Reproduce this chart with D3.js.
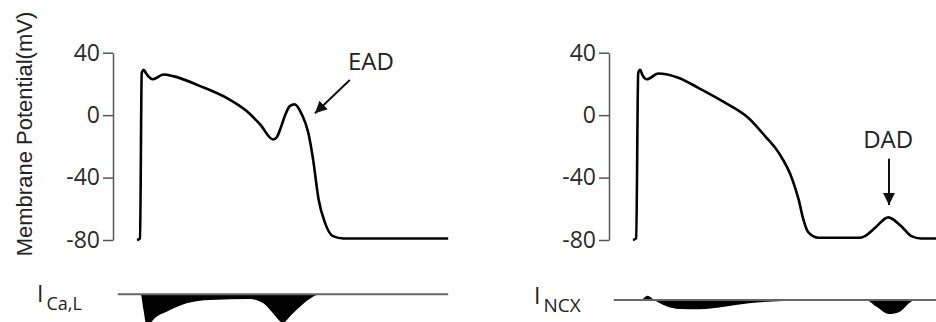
<!DOCTYPE html>
<html>
<head>
<meta charset="utf-8">
<script src="https://cdn.jsdelivr.net/npm/d3@7"></script>
<style>
  html, body { margin: 0; padding: 0; background: #fff; }
  svg { display: block; }
  .axis path, .axis line { stroke: #555; stroke-width: 1.5; }
  .axis text { fill: #2a2a2a; font-family: "Open Sans", sans-serif; font-size: 23px; }
  .note { font-family: "Open Sans", sans-serif; fill: #222; }
</style>
</head>
<body>
<div id="chart"></div>
<script>
// membrane potential (mV) vs time (ms), EAD panel
const timeEAD = [0, 3.8, 5.9, 8.6, 11, 20, 33, 45, 79, 112, 137, 154, 170, 175, 179, 186, 191, 197, 206, 214, 220, 227, 235, 245, 258, 389];
const vmEAD   = [-80, -79, 27, 29, 27, 23, 26, 25, 18.6, 11, 2.6, -6, -15.6, -14, -9, 1, 5.8, 6.9, 0.5, -11, -28, -54, -69, -77.5, -79, -79];

// membrane potential (mV) vs time (ms), DAD panel
const timeDAD = [0, 4, 6.5, 9, 11.5, 17.5, 31.6, 56.6, 81.6, 115, 144, 165, 182, 199, 207, 213, 219, 232, 282, 290, 303, 319, 335, 348, 360, 400];
const vmDAD   = [-80, -79, 27, 29, 26, 23, 26.7, 24, 17.5, 8, -1.7, -13.4, -24, -41, -54, -67, -75, -78.6, -78.6, -77.5, -72, -65.5, -71, -77.5, -79, -79];

// L-type Ca current (relative units)
const timeCaL = [-24, 4.6, 8, 12, 16, 22, 37, 62, 91, 141, 158, 170, 182.5, 192.5, 204, 220, 229, 389];
const iCaL    = [0, 0, -0.5, -1.05, -0.98, -0.8, -0.58, -0.3, -0.19, -0.16, -0.3, -0.63, -0.95, -0.7, -0.41, -0.08, 0, 0];

// Na/Ca exchanger current (relative units)
const timeNCX = [-24, 10, 18, 26.6, 41, 58, 83, 116, 145, 187, 229, 270, 291, 304, 320, 333, 345, 352, 400];
const iNCX    = [0, 0, 0.14, 0, -0.2, -0.3, -0.31, -0.22, -0.11, -0.03, -0.01, 0, 0, -0.22, -0.47, -0.4, -0.11, 0, 0];

const vmTicks = [-80, -40, 0, 40];

const W = 936, H = 322;
const svg = d3.select('#chart').append('svg').attr('width', W).attr('height', H);

const defs = svg.append('defs');
defs.append('marker')
  .attr('id', 'head')
  .attr('markerUnits', 'userSpaceOnUse')
  .attr('viewBox', '0 0 12 12')
  .attr('markerWidth', 12).attr('markerHeight', 12)
  .attr('refX', 12).attr('refY', 6)
  .attr('orient', 'auto')
  .append('path').attr('d', 'M0,0 L12,6 L0,12 Z').attr('fill', '#111');

const x = d3.scaleLinear().domain([0, 400]).range([24, 344]);
const y = d3.scaleLinear().domain([-80, 40]).range([240, 52.7]);

function panel(left, time, vm, tCur, iCur, base, tEnd, label, sub) {
  const g = svg.append('g').attr('transform', `translate(${left},0)`);

  // plain hyphen for negatives, like the original figure
  g.append('g')
    .attr('class', 'axis')
    .call(d3.axisLeft(y).tickValues(vmTicks).tickFormat(d => String(d))
      .tickSize(10).tickSizeOuter(0).tickPadding(3));

  g.append('path')
    .datum(d3.zip(time, vm))
    .attr('fill', 'none')
    .attr('stroke', '#000')
    .attr('stroke-width', 2.6)
    .attr('stroke-linejoin', 'round')
    .attr('d', d3.line().x(d => x(d[0])).y(d => y(d[1])).curve(d3.curveMonotoneX));

  // current trace below
  const c = d3.scaleLinear().domain([-1, 0]).range([base + 30, base]);
  g.append('path')
    .datum(d3.zip(tCur, iCur))
    .attr('fill', '#000')
    .attr('d', d3.area().x(d => x(d[0])).y0(c(0)).y1(d => c(d[1])).curve(d3.curveMonotoneX));
  g.append('line')
    .attr('x1', x(-24)).attr('x2', x(tEnd))
    .attr('y1', c(0)).attr('y2', c(0))
    .attr('stroke', '#666').attr('stroke-width', 2);

  const t = svg.append('text').attr('class', 'note')
    .attr('x', label.x).attr('y', label.y);
  t.append('tspan').attr('font-size', 23).text('I');
  t.append('tspan').attr('font-size', sub.size).attr('dx', 3).attr('dy', sub.dy).text(sub.text);
  return g;
}

const gL = panel(113, timeEAD, vmEAD, timeCaL, iCaL, 294.3, 389,
  { x: 37, y: 302 }, { text: 'Ca,L', size: 18, dy: 8 });
const gR = panel(609, timeDAD, vmDAD, timeNCX, iNCX, 300, 400,
  { x: 534, y: 304 }, { text: 'NCX', size: 19, dy: 8 });

// EAD annotation
gL.append('text').attr('class', 'note')
  .attr('x', x(292.5)).attr('y', y(29))
  .attr('text-anchor', 'middle').attr('font-size', 24).text('EAD');
gL.append('line')
  .attr('x1', x(266)).attr('y1', y(22.5))
  .attr('x2', x(222.5)).attr('y2', y(1.2))
  .attr('stroke', '#111').attr('stroke-width', 2)
  .attr('marker-end', 'url(#head)');

// DAD annotation
gR.append('text').attr('class', 'note')
  .attr('x', x(319)).attr('y', y(-21))
  .attr('text-anchor', 'middle').attr('font-size', 24).text('DAD');
gR.append('line')
  .attr('x1', x(320)).attr('y1', y(-28))
  .attr('x2', x(320)).attr('y2', y(-57.5))
  .attr('stroke', '#111').attr('stroke-width', 2)
  .attr('marker-end', 'url(#head)');

// y axis title
svg.append('text')
  .attr('transform', 'translate(32,134) rotate(-90)')
  .attr('text-anchor', 'middle')
  .attr('font-family', '"Liberation Sans", Arial, sans-serif')
  .attr('font-size', 22)
  .attr('fill', '#222')
  .text('Membrane Potential(mV)');
</script>
</body>
</html>
